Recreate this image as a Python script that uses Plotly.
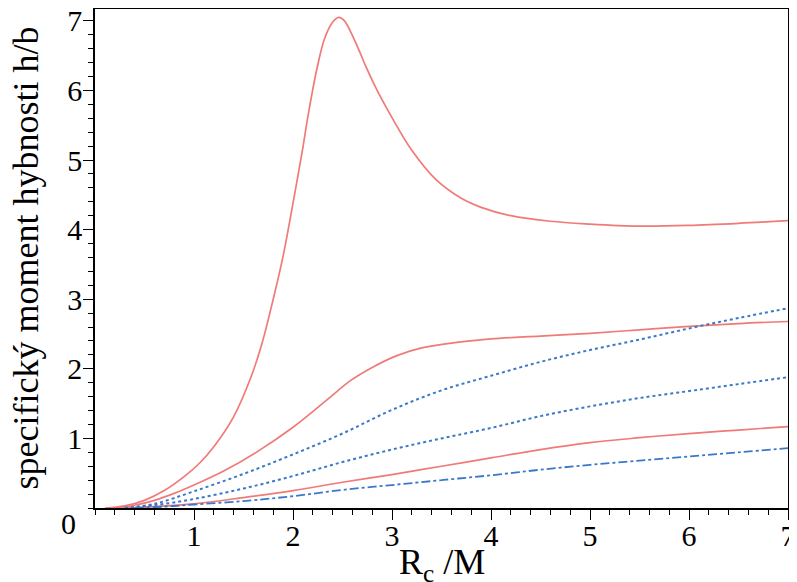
import plotly.graph_objects as go

# values
x_a = [0.1, 0.3, 0.5, 0.7, 0.9, 1.06, 1.2, 1.4, 1.57, 1.68, 1.8, 1.9, 2.0, 2.1, 2.15, 2.24, 2.32, 2.4, 2.46, 2.52, 2.58, 2.66, 2.74, 2.85, 3.0, 3.2, 3.45, 3.7, 3.9, 4.2, 4.6, 5.0, 5.5, 6.0, 6.5, 7.0]
y_a = [0.0, 0.03, 0.11, 0.25, 0.45, 0.65, 0.88, 1.31, 1.86, 2.33, 3.0, 3.62, 4.38, 5.18, 5.62, 6.3, 6.75, 6.98, 7.05, 7.0, 6.85, 6.6, 6.33, 6.0, 5.61, 5.14, 4.71, 4.45, 4.32, 4.2, 4.12, 4.08, 4.05, 4.06, 4.09, 4.13]

x_b = [0.2, 0.4, 0.6, 0.8, 1.0, 1.3, 1.64, 2.0, 2.34, 2.58, 2.8, 3.05, 3.3, 3.6, 4.0, 4.5, 5.0, 5.5, 6.0, 6.5, 7.0]
y_b = [0.0, 0.04, 0.11, 0.21, 0.33, 0.53, 0.81, 1.16, 1.55, 1.83, 2.02, 2.19, 2.3, 2.37, 2.43, 2.47, 2.51, 2.56, 2.61, 2.65, 2.68]

x_c = [0.3, 0.6, 1.0, 1.5, 2.0, 2.5, 3.0, 3.5, 4.0, 4.5, 5.0, 5.5, 6.0, 6.5, 7.0]
y_c = [0.0, 0.02, 0.06, 0.15, 0.25, 0.37, 0.48, 0.6, 0.72, 0.84, 0.94, 1.01, 1.07, 1.12, 1.17]

x_d = [0.3, 0.6, 1.0, 1.5, 2.0, 2.5, 3.0, 3.5, 4.0, 4.5, 5.0, 5.5, 6.0, 6.5, 7.0]
y_d = [0.0, 0.06, 0.24, 0.49, 0.77, 1.07, 1.41, 1.69, 1.9, 2.1, 2.27, 2.42, 2.58, 2.73, 2.87]

x_e = [0.3, 0.6, 1.0, 1.5, 2.0, 2.5, 3.0, 3.5, 4.0, 4.5, 5.0, 5.5, 6.0, 6.5, 7.0]
y_e = [0.0, 0.04, 0.13, 0.28, 0.46, 0.66, 0.84, 1.0, 1.15, 1.32, 1.46, 1.58, 1.68, 1.78, 1.88]

x_f = [0.4, 0.7, 1.0, 1.5, 2.0, 2.5, 3.0, 3.5, 4.0, 4.5, 5.0, 5.5, 6.0, 6.5, 7.0]
y_f = [0.0, 0.02, 0.05, 0.1, 0.17, 0.26, 0.33, 0.4, 0.47, 0.55, 0.62, 0.68, 0.74, 0.8, 0.86]

tick_vals = [1, 2, 3, 4, 5, 6, 7]

red = '#f07a78'
blue = '#3a78c8'
font = 'Liberation Serif'

fig = go.Figure()
for xs, ys in [(x_a, y_a), (x_b, y_b), (x_c, y_c)]:
    fig.add_trace(go.Scatter(x=xs, y=ys, mode='lines',
                             line=dict(color=red, width=1.7, shape='spline', smoothing=1.0)))
for xs, ys in [(x_d, y_d), (x_e, y_e)]:
    fig.add_trace(go.Scatter(x=xs, y=ys, mode='lines',
                             line=dict(color=blue, width=2, dash='dot', shape='spline', smoothing=1.0)))
fig.add_trace(go.Scatter(x=x_f, y=y_f, mode='lines',
                         line=dict(color=blue, width=1.8, dash='dashdot', shape='spline', smoothing=1.0)))

axis_style = dict(showline=True, linecolor='black', linewidth=1.5, mirror=True,
                  showgrid=False, zeroline=False, ticks='outside', ticklen=10,
                  tickwidth=1.2, tickcolor='black', tickvals=tick_vals, automargin=False,
                  ticklabeloverflow='allow',
                  tickfont=dict(family=font, size=30, color='black'),
                  minor=dict(dtick=0.2, ticks='outside', ticklen=5, tickcolor='black', tickwidth=1))

fig.update_xaxes(range=[0, 7], ticklabelstandoff=-10, **axis_style)
fig.update_yaxes(range=[0, 7.17], ticklabelstandoff=-5, **axis_style)

# axis titles and the shared "0" placed as annotations
fig.add_annotation(x=0.5, y=-0.114, xref='paper', yref='paper', text='R<sub>c</sub> /M',
                   showarrow=False, xanchor='center', yanchor='middle',
                   font=dict(family=font, size=36, color='black'))
fig.add_annotation(x=-0.101, y=0.5, xref='paper', yref='paper', text='specifický moment hybnosti h/b',
                   showarrow=False, textangle=-90, xanchor='center', yanchor='middle',
                   font=dict(family=font, size=36, color='black'))
fig.add_annotation(x=0, y=0, xref='x', yref='y', text='0', showarrow=False,
                   xanchor='right', yanchor='middle', xshift=-17, yshift=-15,
                   font=dict(family=font, size=30, color='black'))

# the page body has an 8px margin, so the figure is a little smaller than the window
fig.update_layout(width=789, height=574, showlegend=False,
                  plot_bgcolor='white', paper_bgcolor='white',
                  margin=dict(l=87, r=9, t=1, b=74))

fig.write_html('out.html')
